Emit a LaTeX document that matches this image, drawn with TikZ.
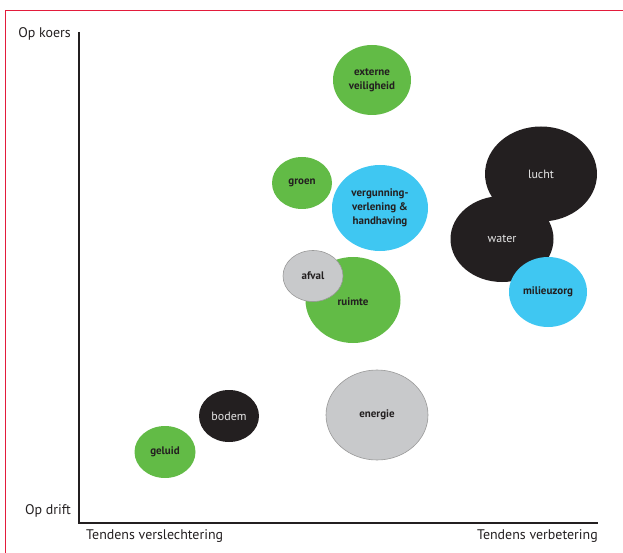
\documentclass[tikz,border=0pt]{standalone}
\usepackage{fontspec}
\setmainfont{PT Sans}
\usetikzlibrary{shapes.geometric}
\definecolor{bubgreen}{HTML}{62BB46}
\definecolor{bubblue}{HTML}{3FC7F2}
\definecolor{bubblack}{HTML}{231F20}
\definecolor{bubgray}{HTML}{C8C9CB}
\definecolor{framered}{HTML}{E31B3B}
\tikzset{
  bubble/.style={ellipse, inner sep=0pt, align=center, text=bubblack,
    font=\bfseries\fontsize{11}{14}\selectfont},
  greenbub/.style={bubble, fill=bubgreen},
  bluebub/.style={bubble, fill=bubblue},
  graybub/.style={bubble, fill=bubgray, draw=black!40, line width=0.6bp},
  blackbub/.style={bubble, fill=bubblack, text=white!90!black,
    font=\fontsize{12}{14}\selectfont},
  axislabel/.style={font=\fontsize{14}{16}\selectfont, text=bubblack, inner sep=0pt}
}
\begin{document}
\begin{tikzpicture}[x=1bp, y=-1bp]
    \useasboundingbox (0,0) rectangle (623,553);
    % frame
    \draw[framered, line width=0.8bp] (5,553) -- (5,10) -- (623,10);
    % axes
    \coordinate (top) at (79,32);
    \coordinate (origin) at (79,523);
    \coordinate (right) at (598,523);
    \draw[bubblack, line width=2bp] (top) -- (origin) -- (right);
    \node[axislabel, anchor=east] (koers) at (71,34) {Op koers};
    \node[axislabel, anchor=east] (drift) at (71,511) {Op drift};
    \node[axislabel, anchor=west] (slechter) at (86,536) {Tendens verslechtering};
    \node[axislabel, anchor=east] (beter) at (598,536) {Tendens verbetering};
    % bubbles
    \node[greenbub, minimum width=78bp, minimum height=70bp] (extern) at (372,80) {externe\\veiligheid};
    \node[greenbub, minimum width=60bp, minimum height=52bp] (groen) at (302,183) {groen};
    \node[bluebub, minimum width=96bp, minimum height=86bp] (vergunning) at (380,208) {vergunning-\\verlening \&\\handhaving};
    \node[greenbub, minimum width=95bp, minimum height=86bp] (ruimte) at (353,300) {};
    \node[graybub, minimum width=60bp, minimum height=51bp] (afval) at (313,276) {afval};
    \node[font=\bfseries\fontsize{11}{14}\selectfont, text=bubblack] (ruimtelabel) at (353,302) {ruimte};
    \node[graybub, minimum width=102bp, minimum height=90bp] (energie) at (377,415) {energie};
    \node[blackbub, minimum width=60bp, minimum height=52bp] (bodem) at (229,416) {bodem};
    \node[greenbub, minimum width=61bp, minimum height=52bp] (geluid) at (165,452) {geluid};
    \node[blackbub, minimum width=112bp, minimum height=95bp] (lucht) at (541,174) {lucht};
    \node[blackbub, minimum width=103bp, minimum height=86bp] (water) at (502,239) {water};
    \node[bluebub, minimum width=78bp, minimum height=70bp] (milieuzorg) at (548,292) {milieuzorg};
\end{tikzpicture}
\end{document}
